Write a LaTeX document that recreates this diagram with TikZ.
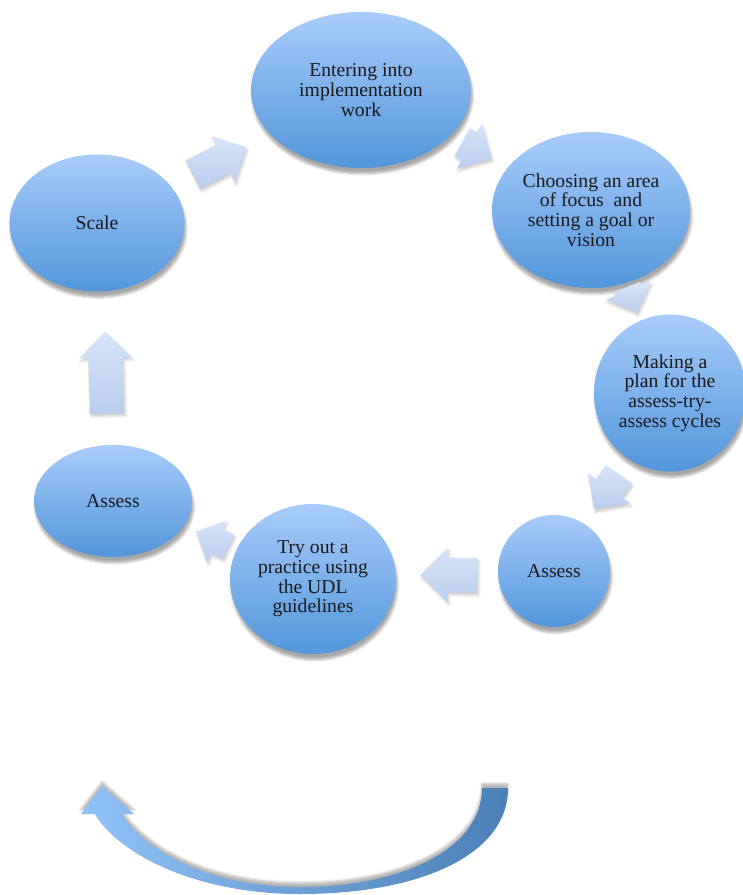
\documentclass[tikz,border=0pt]{standalone}
\usepackage{fontspec}
\setmainfont{Liberation Serif}
\usetikzlibrary{shapes.geometric,shapes.arrows,shadows.blur}
\definecolor{S0}{RGB}{168,204,250}
\definecolor{S1}{RGB}{82,150,218}
\definecolor{A0}{RGB}{216,229,250}
\definecolor{A1}{RGB}{186,205,238}
\definecolor{C0}{RGB}{145,195,248}
\definecolor{C1}{RGB}{74,128,182}
\begin{document}
\begin{tikzpicture}[x=0.025cm,y=-0.025cm,
  stage/.style={ellipse,top color=S0,bottom color=S1,inner sep=0pt,align=center,
    font=\fontsize{14}{14}\selectfont,text=black!90,
    blur shadow={shadow xshift=1pt,shadow yshift=-4pt,shadow opacity=35,shadow blur steps=6}},
  flow/.style={single arrow,top color=A0,bottom color=A1,inner xsep=0pt,inner ysep=0.39cm,
    single arrow head extend=0.25cm,
    blur shadow={shadow xshift=1pt,shadow yshift=-2pt,shadow opacity=20,shadow blur steps=4}}]

  \useasboundingbox (0,0) rectangle (743,895);

  % Stages of the cycle.
  \node[stage,minimum width=5.5cm,minimum height=3.9cm] (enter) at (361,90)
    {Entering into\\implementation\\work};
  \node[stage,minimum width=4.95cm,minimum height=3.9cm] (focus) at (591,210)
    {Choosing an area\\of focus~ and\\setting a goal or\\vision};
  \node[stage,minimum width=3.8cm,minimum height=3.925cm] (plan) at (670,393)
    {Making a\\plan for the\\assess-try-\\assess cycles};
  \node[stage,minimum width=2.8cm,minimum height=2.8cm] (check) at (554,571) {Assess};
  \node[stage,minimum width=4.15cm,minimum height=3.75cm] (try) at (313,579)
    {Try out a\\practice using\\the UDL\\guidelines};
  \node[stage,minimum width=3.95cm,minimum height=2.8cm] (recheck) at (113,501) {Assess};
  \node[stage,minimum width=4.375cm,minimum height=3.425cm] (scale) at (97,223) {Scale};

  % Block arrows between the stages.
  \node[flow,rotate=27,minimum height=1.5cm] (a1) at (212.4,164.5) {};
  \node[flow,rotate=-29,minimum height=0.85cm] (a2) at (470,146.6) {};
  \node[flow,rotate=-68,minimum height=0.7cm,inner ysep=0.35cm] (a3) at (629.4,293.5) {};
  \node[flow,rotate=-125,minimum height=1.075cm] (a4) at (611,485.3) {};
  \node[flow,rotate=180,minimum height=1.425cm,inner ysep=0.425cm] (a5) at (457.5,575) {};
  \node[flow,rotate=155,minimum height=0.9cm,inner ysep=0.33cm,single arrow head extend=0.24cm] (a6) at (218.3,542) {};
  \node[flow,rotate=91.5,minimum height=2.05cm,inner ysep=0.425cm,single arrow head extend=0.225cm] (a7) at (106.2,381) {};

  % Curved return arrow.
  \shade[left color=C0,right color=C1,
    blur shadow={shadow xshift=0pt,shadow yshift=3pt,shadow opacity=30,shadow blur steps=5}]
    (508,788) .. controls (508,855) and (420,894) .. (300,894)
    .. controls (190,894) and (115,850) .. (95,814)
    -- (81,814) -- (102,786) -- (134,814) -- (122,814)
    .. controls (140,845) and (200,887) .. (300,887)
    .. controls (400,887) and (482,850) .. (482,788) -- cycle;

\end{tikzpicture}
\end{document}
